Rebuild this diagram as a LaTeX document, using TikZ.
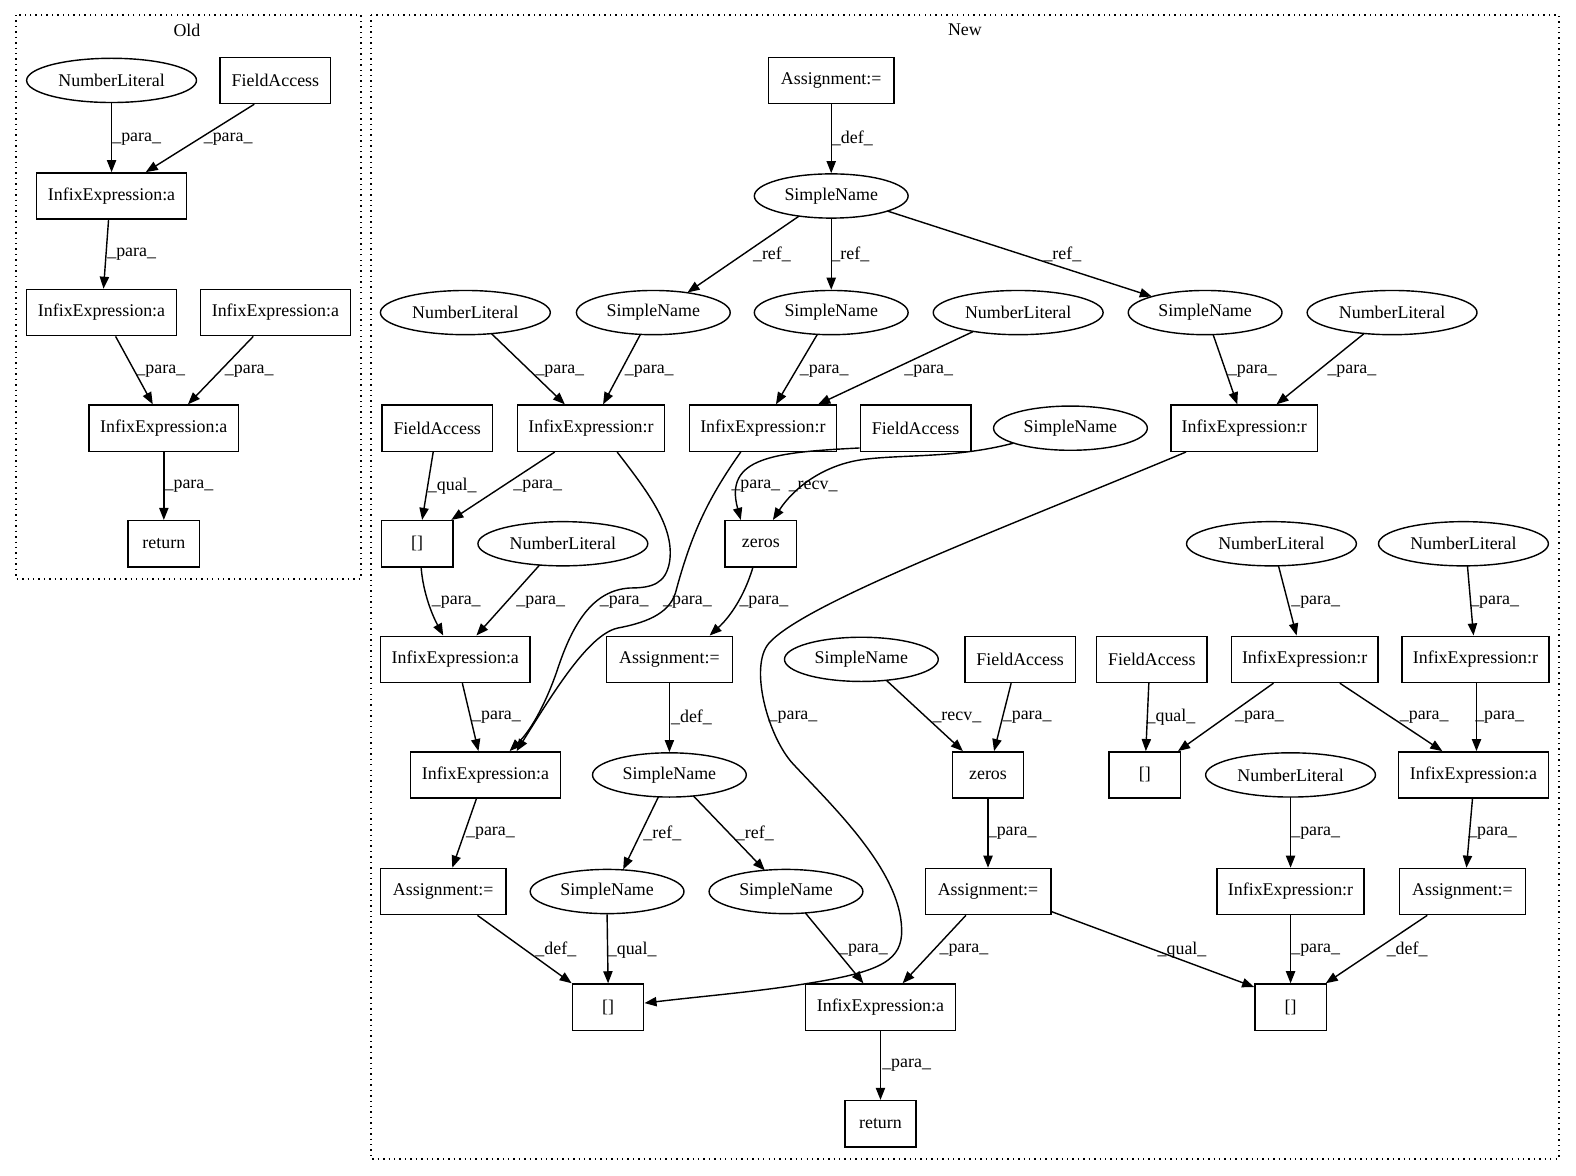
\documentclass[tikz,border=0pt]{standalone}
\usepackage{fontspec}
\setmainfont{Liberation Serif}
\usetikzlibrary{shapes.geometric,arrows.meta,calc}
\tikzset{
  nbase/.style={draw, line width=0.7pt, inner sep=0pt, font=\fontsize{8.9pt}{10pt}\selectfont},
  bx/.style={nbase, rectangle, minimum height=23pt},
  el/.style={nbase, ellipse, minimum height=22pt},
  wIE/.style={bx, minimum width=74.5pt},
  wIR/.style={bx, minimum width=73pt},
  wFA/.style={bx, minimum width=55pt},
  wAS/.style={bx, minimum width=62.5pt},
  wSm/.style={bx, minimum width=35.5pt},
  eNL/.style={el, minimum width=84.5pt},
  eSN/.style={el, minimum width=76.5pt},
  edg/.style={line width=0.7pt, -{Triangle[length=6pt,width=4.6pt]}},
  lab/.style={font=\fontsize{8.9pt}{10pt}\selectfont, inner sep=0pt},
  clus/.style={dotted, line width=0.7pt},
}
\begin{document}
\begin{tikzpicture}[x=0.5pt,y=-0.5pt]
\useasboundingbox (0,0) rectangle (1568,1170);
% clusters
\draw[clus] (16,15) rectangle (359,576);
\node[lab] (tOld) at (186,30) {Old};
\draw[clus] (369,15) rectangle (1551,1153);
\node[lab] (tNew) at (960,30) {New};

% ---------- Old ----------
\node[eNL] (oNL) at (111,80) {NumberLiteral};
\node[wFA] (oFA) at (274,80) {FieldAccess};
\node[wIE] (oIEa) at (111,195) {InfixExpression:a};
\node[wIE] (oIEb) at (101,311) {InfixExpression:a};
\node[wIE] (oIEc) at (274,311) {InfixExpression:a};
\node[wIE] (oIEd) at (163,426) {InfixExpression:a};
\node[wSm] (oRet) at (163,541) {return};

\draw[edg] (oNL.south) -- (oIEa.north);
\draw[edg] ($(oFA.south)+(-21,0)$) -- ($(oIEa.north)+(34,0)$);
\draw[edg] ($(oIEa.south)+(-3,0)$) -- ($(oIEb.north)+(2,0)$);
\draw[edg] ($(oIEb.south)+(14,0)$) -- ($(oIEd.north)+(-11,0)$);
\draw[edg] ($(oIEc.south)+(-22,0)$) -- ($(oIEd.north)+(24,0)$);
\draw[edg] (oIEd.south) -- (oRet.north);

\node[lab] (ol1) at (136,138) {\_para\_};
\node[lab] (ol2) at (227,138) {\_para\_};
\node[lab] (ol3) at (131,253) {\_para\_};
\node[lab] (ol4) at (160,369) {\_para\_};
\node[lab] (ol5) at (248,369) {\_para\_};
\node[lab] (ol6) at (188,484) {\_para\_};

% ---------- New ----------
\node[wAS] (a0) at (827,80) {Assignment:=};
\node[eSN] (sn0) at (827,195) {SimpleName};
\node[eSN] (sn1) at (650,311) {SimpleName};
\node[eSN] (sn2) at (827,311) {SimpleName};
\node[eSN] (sn3) at (1199,311) {SimpleName};
\node[eNL] (nl1) at (463,311) {NumberLiteral};
\node[eNL] (nl2) at (1013,311) {NumberLiteral};
\node[eNL] (nl3) at (1385,311) {NumberLiteral};
\node[wFA] (fa1) at (435,426) {FieldAccess};
\node[wIR] (ier1) at (588,426) {InfixExpression:r};
\node[wIR] (ier2) at (759,426) {InfixExpression:r};
\node[wFA] (fa2) at (911,426) {FieldAccess};
\node[eSN] (sn4) at (1065,426) {SimpleName};
\node[wIR] (ier3) at (1238,426) {InfixExpression:r};
\node[wSm] (br1) at (415,541) {[]};
\node[eNL] (nl4) at (560,541) {NumberLiteral};
\node[wSm] (z1) at (757,541) {zeros};
\node[eNL] (nl5) at (1265,541) {NumberLiteral};
\node[eNL] (nl6) at (1456,541) {NumberLiteral};
\node[wIE] (iea1) at (453,656) {InfixExpression:a};
\node[wAS] (as1) at (666,656) {Assignment:=};
\node[eSN] (sn5) at (857,656) {SimpleName};
\node[wFA] (fa3) at (1015,656) {FieldAccess};
\node[wFA] (fa4) at (1146,656) {FieldAccess};
\node[wIR] (ier4) at (1298,656) {InfixExpression:r};
\node[wIR] (ier5) at (1468,656) {InfixExpression:r};
\node[wIE] (iea2) at (483,771) {InfixExpression:a};
\node[eSN] (sn6) at (666,771) {SimpleName};
\node[wSm] (z2) at (983,771) {zeros};
\node[wSm] (br2) at (1139,771) {[]};
\node[eNL] (nl7) at (1284,771) {NumberLiteral};
\node[wIE] (iea3) at (1466,771) {InfixExpression:a};
\node[wAS] (as2) at (441,887) {Assignment:=};
\node[eSN] (sn7) at (604,887) {SimpleName};
\node[eSN] (sn8) at (782,887) {SimpleName};
\node[wAS] (as3) at (983,887) {Assignment:=};
\node[wIR] (ier6) at (1284,887) {InfixExpression:r};
\node[wAS] (as4) at (1455,887) {Assignment:=};
\node[wSm] (br3) at (605,1002) {[]};
\node[wIE] (iea4) at (876,1002) {InfixExpression:a};
\node[wSm] (br4) at (1284,1002) {[]};
\node[wSm] (ret2) at (876,1118) {return};

% edges
\draw[edg] (a0.south) -- (sn0.north);
\draw[edg] ($(sn0)+(-32,20)$) -- ($(sn1)+(34,-20)$);
\draw[edg] (sn0.south) -- (sn2.north);
\draw[edg] ($(sn0)+(56,15)$) -- ($(sn3)+(-53,-16)$);
\draw[edg] ($(nl1)+(26,21)$) -- ($(ier1.north)+(-26,0)$);
\draw[edg] ($(sn1)+(-13,22)$) -- ($(ier1.north)+(12,0)$);
\draw[edg] ($(sn2)+(-14,22)$) -- ($(ier2.north)+(13,0)$);
\draw[edg] ($(nl2)+(-45,19)$) -- ($(ier2.north)+(55,0)$);
\draw[edg] ($(sn3)+(8,22)$) -- ($(ier3.north)+(-7,0)$);
\draw[edg] ($(nl3)+(-28,21)$) -- ($(ier3.north)+(32,0)$);
\draw[edg] ($(fa1.south)+(-4,0)$) -- ($(br1.north)+(5,0)$);
\draw[edg] ($(ier1.south)+(-36,0)$) -- ($(br1.north)+(34,0)$);
\draw[edg] ($(fa2.south west)+(0,-4)$) .. controls (770,450) and (720,455) .. ($(z1.north)+(-20,0)$);
\draw[edg] ($(sn4)+(-57,15)$) .. controls (950,456) and (900,452) .. (860,457) .. controls (820,462) and (790,485) .. ($(z1.north)+(12,0)$);
\draw[edg] ($(br1.south)+(4,0)$) .. controls (421,590) and (430,612) .. ($(iea1.north)+(-12,0)$);
\draw[edg] ($(nl4)+(-23,21)$) -- ($(iea1.north)+(21,0)$);
\draw[edg] ($(iea1.south)+(7,0)$) -- ($(iea2.north)+(-7,0)$);
\draw[edg] ($(ier1.south)+(26,0)$) .. controls (645,490) and (672,525) .. (666,560) .. controls (662,580) and (650,585) .. (627,585) .. controls (590,587) and (570,620) .. (555,665) .. controls (545,695) and (530,725) .. ($(iea2.north)+(24,0)$);
\draw[edg] ($(ier2.south)+(-22,0)$) .. controls (705,495) and (688,530) .. (672,590) .. controls (665,612) and (640,620) .. (614,625) .. controls (585,632) and (550,690) .. ($(iea2.north)+(31,0)$);
\draw[edg] ($(z1.south)+(-8,0)$) .. controls (740,595) and (725,615) .. ($(as1.north)+(40,0)$);
\draw[edg] ($(ier3.south)+(-58,0)$) .. controls (1000,525) and (800,600) .. (765,640) .. controls (745,663) and (764,733) .. (789,760) .. controls (830,804) and (900,870) .. (897,930) .. controls (895,958) and (870,968) .. (800,979) .. controls (750,987) and (700,991) .. ($(br3.east)+(0,-4)$);
\draw[edg] ($(nl5)+(7,22)$) -- ($(ier4.north)+(-8,0)$);
\draw[edg] ($(nl6)+(4,22)$) -- ($(ier5.north)+(-2,0)$);
\draw[edg] ($(fa4.south)+(-3,0)$) -- ($(br2.north)+(1,0)$);
\draw[edg] ($(ier4.south)+(-31,0)$) -- ($(br2.north)+(33,0)$);
\draw[edg] ($(ier4.south)+(35,0)$) -- ($(iea3.north)+(-31,0)$);
\draw[edg] ($(ier5.south)+(1,0)$) -- ($(iea3.north)+(3,0)$);
\draw[edg] ($(iea3.south)+(-1,0)$) -- ($(as4.north)+(4,0)$);
\draw[edg] (nl7.south) -- (ier6.north);
\draw[edg] (ier6.south) -- (br4.north);
\draw[edg] ($(as4.south)+(-35,0)$) -- ($(br4.north)+(35,0)$);
\draw[edg] ($(iea2.south)+(-9,0)$) -- ($(as2.north)+(9,0)$);
\draw[edg] (as1.south) -- (sn6.north);
\draw[edg] ($(sn5)+(25,21)$) -- ($(z2.north)+(-25,0)$);
\draw[edg] ($(fa3.south)+(-9,0)$) -- ($(z2.north)+(6,0)$);
\draw[edg] ($(sn6)+(-11,22)$) -- ($(sn7)+(16,-22)$);
\draw[edg] ($(sn6)+(24,21)$) -- ($(sn8)+(-21,-21)$);
\draw[edg] (z2.south) -- (as3.north);
\draw[edg] ($(as2.south)+(34,0)$) -- (br3.north west);
\draw[edg] (sn7.south) -- (br3.north);
\draw[edg] ($(sn8)+(19,21)$) -- ($(iea4.north)+(-17,0)$);
\draw[edg] ($(as3.south)+(-22,0)$) -- ($(iea4.north)+(22,0)$);
\draw[edg] ($(as3.east)+(0,20)$) -- ($(br4.west)+(0,-20)$);
\draw[edg] (iea4.south) -- (ret2.north);

% labels
\node[lab] (l1) at (848,138) {\_def\_};
\node[lab] (l2) at (768,253) {\_ref\_};
\node[lab] (l3) at (846,253) {\_ref\_};
\node[lab] (l4) at (1057,253) {\_ref\_};
\node[lab] (l5) at (557,369) {\_para\_};
\node[lab] (l6) at (646,369) {\_para\_};
\node[lab] (l7) at (820,369) {\_para\_};
\node[lab] (l8) at (924,369) {\_para\_};
\node[lab] (l9) at (1246,369) {\_para\_};
\node[lab] (l10) at (1345,369) {\_para\_};
\node[lab] (l11) at (450,484) {\_qual\_};
\node[lab] (l12) at (535,484) {\_para\_};
\node[lab] (l13) at (752,484) {\_para\_};
\node[lab] (l14) at (809,484) {\_recv\_};
\node[lab] (l15) at (454,599) {\_para\_};
\node[lab] (l16) at (538,599) {\_para\_};
\node[lab] (l17) at (621,599) {\_para\_};
\node[lab] (l18) at (684,599) {\_para\_};
\node[lab] (l19) at (760,599) {\_para\_};
\node[lab] (l20) at (1309,599) {\_para\_};
\node[lab] (l21) at (1487,599) {\_para\_};
\node[lab] (l22) at (494,714) {\_para\_};
\node[lab] (l23) at (688,714) {\_def\_};
\node[lab] (l24) at (789,714) {\_para\_};
\node[lab] (l25) at (952,714) {\_recv\_};
\node[lab] (l26) at (1022,714) {\_para\_};
\node[lab] (l27) at (1165,714) {\_qual\_};
\node[lab] (l28) at (1253,714) {\_para\_};
\node[lab] (l29) at (1417,714) {\_para\_};
\node[lab] (l30) at (1492,714) {\_para\_};
\node[lab] (l31) at (659,829) {\_ref\_};
\node[lab] (l32) at (751,829) {\_ref\_};
\node[lab] (l33) at (1007,829) {\_para\_};
\node[lab] (l34) at (1309,829) {\_para\_};
\node[lab] (l35) at (1485,829) {\_para\_};
\node[lab] (l44) at (488,829) {\_para\_};
\node[lab] (l36) at (553,945) {\_def\_};
\node[lab] (l37) at (629,945) {\_qual\_};
\node[lab] (l38) at (859,945) {\_para\_};
\node[lab] (l39) at (959,945) {\_para\_};
\node[lab] (l40) at (1176,945) {\_qual\_};
\node[lab] (l41) at (1309,945) {\_para\_};
\node[lab] (l42) at (1400,945) {\_def\_};
\node[lab] (l43) at (902,1060) {\_para\_};
\end{tikzpicture}
\end{document}
